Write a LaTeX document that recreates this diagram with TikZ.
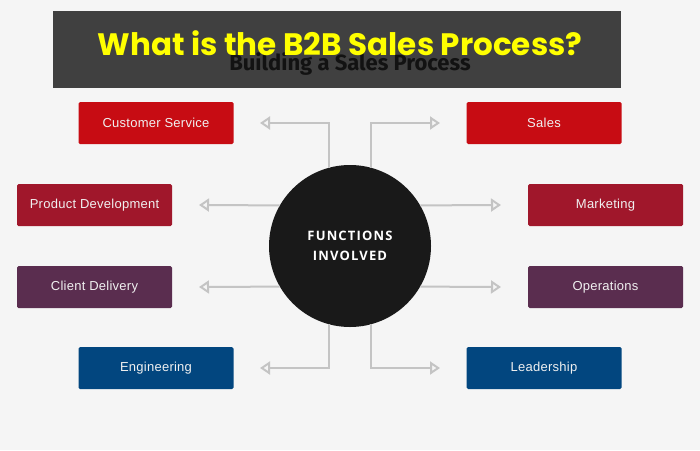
\documentclass[tikz,border=0pt]{standalone}
\usepackage{fontspec}
\usetikzlibrary{arrows.meta}
\setmainfont{Liberation Sans}
\newfontfamily\titlefont{Poppins}
\newfontfamily\subfont{Fira Sans}
\newfontfamily\labelfont[LetterSpace=2]{Liberation Sans}
\newfontfamily\circfont[LetterSpace=9]{Open Sans}

\definecolor{PageBg}{HTML}{F5F5F5}
\definecolor{BarBg}{HTML}{404040}
\definecolor{TitleYellow}{HTML}{FFFF00}
\definecolor{RedBox}{HTML}{C70C13}
\definecolor{WineBox}{HTML}{A0172B}
\definecolor{PlumBox}{HTML}{5A2D4F}
\definecolor{BlueBox}{HTML}{02467F}
\definecolor{LineGrey}{HTML}{C4C4C4}

\begin{document}
\begin{tikzpicture}[x=1pt, y=-1pt,
  func/.style={rectangle, rounded corners=1.5pt, minimum width=155pt, minimum height=42pt,
    inner sep=0pt, text=white!94!black, font=\labelfont\fontsize{13}{15}\selectfont},
  conn/.style={draw=LineGrey, line width=2pt, -{Triangle[open, length=10pt, width=13pt]}}]

 % Background
 \fill[PageBg] (0,0) rectangle (700,450);
 \fill[BarBg] (53,11) rectangle (621,88);

 %%%%%%%%%% Arrow tips %%%%%%%%%%
 \coordinate (csTip) at (260,123);
 \coordinate (saTip) at (440,123);
 \coordinate (pdTip) at (199,205);
 \coordinate (mkTip) at (501,205);
 \coordinate (cdTip) at (199,287);
 \coordinate (opTip) at (501,287);
 \coordinate (enTip) at (260,368);
 \coordinate (ldTip) at (440,368);

 % Titles
 \node[anchor=base, text=black!93, font=\subfont\bfseries\fontsize{22}{26}\selectfont] (sub) at (350,70) {Building a Sales Process};
 \node[anchor=base, text=TitleYellow, font=\titlefont\bfseries\fontsize{31}{36}\selectfont] (title) at (340,55) {What is the B2B Sales Process?};

 % Centre
 \node[circle, fill=black!90, minimum size=162pt, inner sep=0pt, text=white, align=center,
   font=\circfont\bfseries\fontsize{13}{20}\selectfont] (fn) at (350,246) {FUNCTIONS\\INVOLVED};

 % Functions
 \node[func, fill=RedBox] (cs) at (156,123) {Customer Service};
 \node[func, fill=RedBox] (sa) at (544,123) {Sales};
 \node[func, fill=WineBox] (pd) at (94.5,205) {Product Development};
 \node[func, fill=WineBox] (mk) at (605.5,205) {Marketing};
 \node[func, fill=PlumBox] (cd) at (94.5,287) {Client Delivery};
 \node[func, fill=PlumBox] (op) at (605.5,287) {Operations};
 \node[func, fill=BlueBox] (en) at (156,368) {Engineering};
 \node[func, fill=BlueBox] (ld) at (544,368) {Leadership};

 % Connectors
 \draw[conn] (fn.105) |- (csTip);
 \draw[conn] (fn.75) |- (saTip);
 \draw[conn] (fn.150) -- (pdTip);
 \draw[conn] (fn.30) -- (mkTip);
 \draw[conn] (fn.210) -- (cdTip);
 \draw[conn] (fn.330) -- (opTip);
 \draw[conn] (fn.255) |- (enTip);
 \draw[conn] (fn.285) |- (ldTip);

\end{tikzpicture}
\end{document}
